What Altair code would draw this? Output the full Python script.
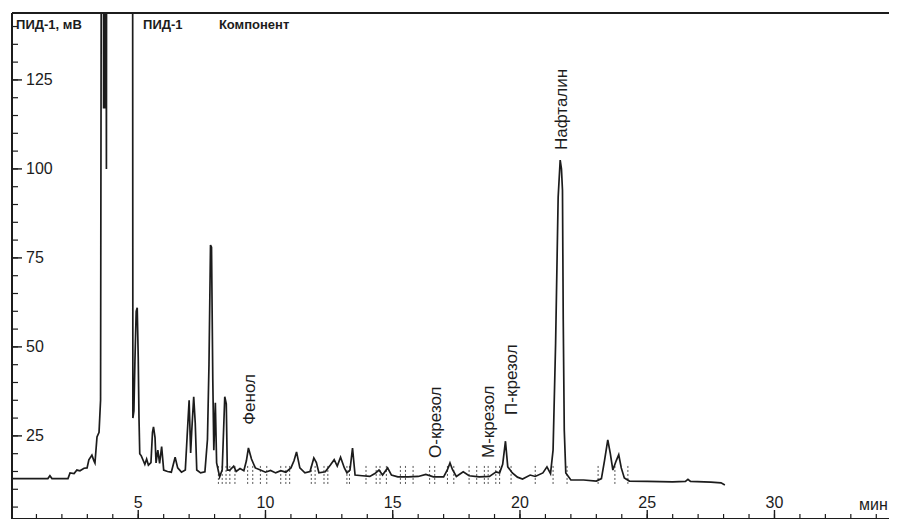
import altair as alt
import pandas as pd

# ---- chromatogram trace (time in min, signal in mV) ----
time_min = [0.04, 1.45, 1.53, 1.61, 2.24, 2.32, 2.48, 2.59, 2.71, 2.87, 2.99, 3.06, 3.18, 3.26, 3.30, 3.38,
            3.46, 3.52, 3.58, 3.62, 3.64, 3.66, 3.69, 3.71, 3.75, 3.77, 4.77,
            4.79, 4.83, 4.87, 4.92, 4.96, 5.00, 5.03, 5.06, 5.12, 5.20, 5.26, 5.33, 5.40, 5.50, 5.56, 5.60,
            5.66, 5.70, 5.77, 5.84, 5.92, 6.00, 6.15, 6.30, 6.45, 6.55, 6.70, 6.85, 6.92, 7.00, 7.06, 7.10,
            7.18, 7.24, 7.30, 7.45, 7.62, 7.72, 7.78, 7.84, 7.88, 7.93, 7.97, 8.03, 8.08, 8.20, 8.30, 8.40,
            8.46, 8.50, 8.60, 8.75, 8.85, 9.00, 9.15, 9.25, 9.33, 9.45, 9.60, 9.80, 10.0, 10.2, 10.4, 10.6,
            10.8, 11.0, 11.12, 11.22, 11.35, 11.55, 11.75, 11.90, 12.0, 12.1, 12.35, 12.55, 12.70, 12.82,
            12.95, 13.10, 13.20, 13.32, 13.42, 13.52, 13.8, 14.1, 14.3, 14.46, 14.6, 14.8, 14.95, 15.2,
            15.6, 16.0, 16.3, 16.6, 17.0, 17.15, 17.25, 17.35, 17.5, 17.77, 18.0, 18.4, 18.8, 19.06, 19.2,
            19.32, 19.43, 19.52, 19.7, 19.9, 20.1, 20.4, 20.6, 20.9, 21.06, 21.2, 21.3, 21.4, 21.5, 21.58,
            21.63, 21.67, 21.70, 21.74, 21.8, 22.0, 22.5, 23.0, 23.2, 23.32, 23.45, 23.55, 23.65, 23.78,
            23.88, 23.98, 24.1, 24.3, 25.0, 26.0, 26.5, 26.6, 26.7, 27.5, 27.9, 28.05]
signal_mv = [13.0, 13.0, 13.8, 13.0, 13.0, 14.6, 14.4, 15.4, 15.2, 15.9, 16.0, 18.3, 19.6, 18.0, 17.4, 24.7,
             26.0, 35.0, 300, 300, 117, 300, 117, 300, 100, 300, 300,
             30.0, 32.0, 46.0, 60.0, 61.0, 47.0, 30.0, 20.0, 19.4, 18.0, 17.0, 18.5, 16.8, 17.5, 26.0, 27.5,
             24.5, 17.4, 21.0, 17.3, 22.0, 15.4, 15.0, 14.8, 19.0, 16.0, 14.8, 15.4, 24.7, 35.0, 20.2, 26.0,
             36.0, 28.6, 15.4, 14.6, 14.9, 24.0, 45.0, 78.6, 78.0, 40.7, 21.0, 34.3, 17.4, 13.5, 15.5, 36.0,
             34.0, 15.4, 15.4, 16.5, 15.0, 15.8, 15.2, 18.0, 21.6, 18.5, 16.0, 15.4, 14.8, 15.3, 14.6, 15.2,
             14.8, 16.0, 18.0, 20.5, 16.0, 14.6, 15.0, 18.8, 17.5, 14.6, 14.9, 16.8, 18.3, 16.5,
             19.0, 16.0, 14.6, 15.4, 21.6, 14.0, 13.8, 13.6, 14.4, 15.4, 14.0, 16.0, 14.0, 13.5,
             13.5, 13.6, 14.2, 13.5, 13.5, 15.5, 17.4, 15.5, 13.6, 14.9, 13.8, 13.5, 13.6, 14.9, 14.6,
             17.0, 23.5, 16.3, 14.6, 13.4, 12.9, 14.0, 13.6, 14.6, 16.3, 14.4, 21.0, 51.0, 92.0, 102.5,
             100.0, 94.0, 57.6, 26.7, 14.6, 12.6, 12.6, 12.3, 13.0, 18.0, 23.9, 20.0, 15.4, 18.0,
             19.7, 16.0, 13.2, 12.3, 12.2, 12.1, 12.2, 12.8, 12.2, 12.0, 11.8, 11.2]

# ---- integration markers (dotted) ----
marker_times = [8.15, 8.3, 8.45, 8.6, 8.8, 9.3, 9.5, 9.8, 10.05, 10.6, 10.8, 10.95, 11.8, 11.95, 12.3,
                12.45, 13.2, 13.3, 13.95, 14.35, 14.5, 14.75, 15.3, 15.5, 15.8, 16.45, 16.65, 17.15, 17.4,
                18.0, 18.3, 18.6, 18.75, 19.05, 19.2, 19.65, 20.6, 21.3, 21.85, 23.07, 23.73, 24.24]
marker_low = 11.5
marker_high = 17.0

# ---- peak labels ----
peak_names = ["Фенол", "О-крезол", "М-крезол", "П-крезол", "Нафталин"]
peak_label_time = [9.41, 16.69, 18.78, 19.69, 21.65]
peak_label_mv = [28.1, 18.8, 18.8, 30.9, 105.3]

# ---- header texts ----
header_texts = ["ПИД-1, мВ", "ПИД-1", "Компонент"]
header_times = [0.2, 5.19, 8.17]

# ---- axes ----
x_major = [5, 10, 15, 20, 25, 30]
x_minor = list(range(1, 35))
y_major = [25, 50, 75, 100, 125]
y_minor = list(range(5, 145, 5))
x_unit = "мин"
x_unit_time = 34.45

W, H = 877, 506
FONT = "Liberation Sans"
INK = "#1c1c1c"

xs = alt.Scale(domain=[0.04, 34.5], nice=False, zero=False)
ys = alt.Scale(domain=[1.65, 143.8], nice=False, zero=False)

trace = pd.DataFrame({"t": time_min, "v": signal_mv})
markers = pd.DataFrame({"t": marker_times, "lo": [marker_low] * len(marker_times),
                        "hi": [marker_high] * len(marker_times)})
labels = pd.DataFrame({"t": peak_label_time, "v": peak_label_mv, "name": peak_names})
heads = pd.DataFrame({"t": header_times, "name": header_texts})
xmaj = pd.DataFrame({"t": x_major, "lab": [str(v) for v in x_major]})
xmin = pd.DataFrame({"t": x_minor})
ymaj = pd.DataFrame({"v": y_major, "lab": [str(v) for v in y_major]})
ymin = pd.DataFrame({"v": y_minor})
unit = pd.DataFrame({"t": [x_unit_time], "lab": [x_unit]})

X = lambda f: alt.X(f, scale=xs, axis=None)
Y = lambda f: alt.Y(f, scale=ys, axis=None)

line = alt.Chart(trace).mark_line(color=INK, strokeWidth=1.7, clip=True, interpolate="linear").encode(
    x=X("t:Q"), y=Y("v:Q"), order="t:Q")

mk = alt.Chart(markers).mark_rule(color="#555", strokeWidth=1, strokeDash=[2, 2]).encode(
    x=X("t:Q"), y=Y("lo:Q"), y2="hi:Q")

peak_txt = alt.Chart(labels).mark_text(angle=270, align="left", baseline="middle",
                                       font=FONT, fontSize=17, color=INK).encode(
    x=X("t:Q"), y=Y("v:Q"), text="name:N")

head_txt = alt.Chart(heads).mark_text(align="left", baseline="middle", font=FONT,
                                      fontSize=13, fontWeight="bold", color=INK).encode(
    x=X("t:Q"), y=alt.value(12), text="name:N")

frame_left = alt.Chart(xmin).mark_rule(color=INK, strokeWidth=1.5).encode(
    x=alt.value(0), y=alt.value(0), y2=alt.value(H))
frame_bottom = alt.Chart(xmin).mark_rule(color=INK, strokeWidth=1.5).encode(
    y=alt.value(H), x=alt.value(0), x2=alt.value(W))
frame_top = alt.Chart(xmin).mark_rule(color=INK, strokeWidth=1.2).encode(
    y=alt.value(0), x=alt.value(0), x2=alt.value(W))

xt_maj = alt.Chart(xmaj).mark_rule(color=INK, strokeWidth=1.4).encode(
    x=X("t:Q"), y=alt.value(H), y2=alt.value(H - 9))
xt_min = alt.Chart(xmin).mark_rule(color=INK, strokeWidth=1.2).encode(
    x=X("t:Q"), y=alt.value(H), y2=alt.value(H - 5))
xl = alt.Chart(xmaj).mark_text(baseline="middle", align="center", font=FONT, fontSize=16,
                               color=INK).encode(x=X("t:Q"), y=alt.value(H - 16), text="lab:N")
xu = alt.Chart(unit).mark_text(baseline="middle", align="right", font=FONT, fontSize=16,
                               color=INK).encode(x=X("t:Q"), y=alt.value(H - 14), text="lab:N")

yt_maj = alt.Chart(ymaj).mark_rule(color=INK, strokeWidth=1.4).encode(
    y=Y("v:Q"), x=alt.value(0), x2=alt.value(10))
yt_min = alt.Chart(ymin).mark_rule(color=INK, strokeWidth=1.2).encode(
    y=Y("v:Q"), x=alt.value(0), x2=alt.value(6))
yl = alt.Chart(ymaj).mark_text(baseline="middle", align="left", font=FONT, fontSize=16,
                               color=INK).encode(y=Y("v:Q"), x=alt.value(14), text="lab:N")

chart = alt.layer(
    mk, line, frame_left, frame_bottom, frame_top, xt_maj, xt_min, xl, xu,
    yt_maj, yt_min, yl, peak_txt, head_txt
).properties(
    width=W, height=H,
    padding={"left": 4, "top": 5, "right": 0, "bottom": 0},
    autosize="none", background="white"
).configure_view(stroke=None)

chart.save("out.html", embed_options={"renderer": "svg", "actions": False})
